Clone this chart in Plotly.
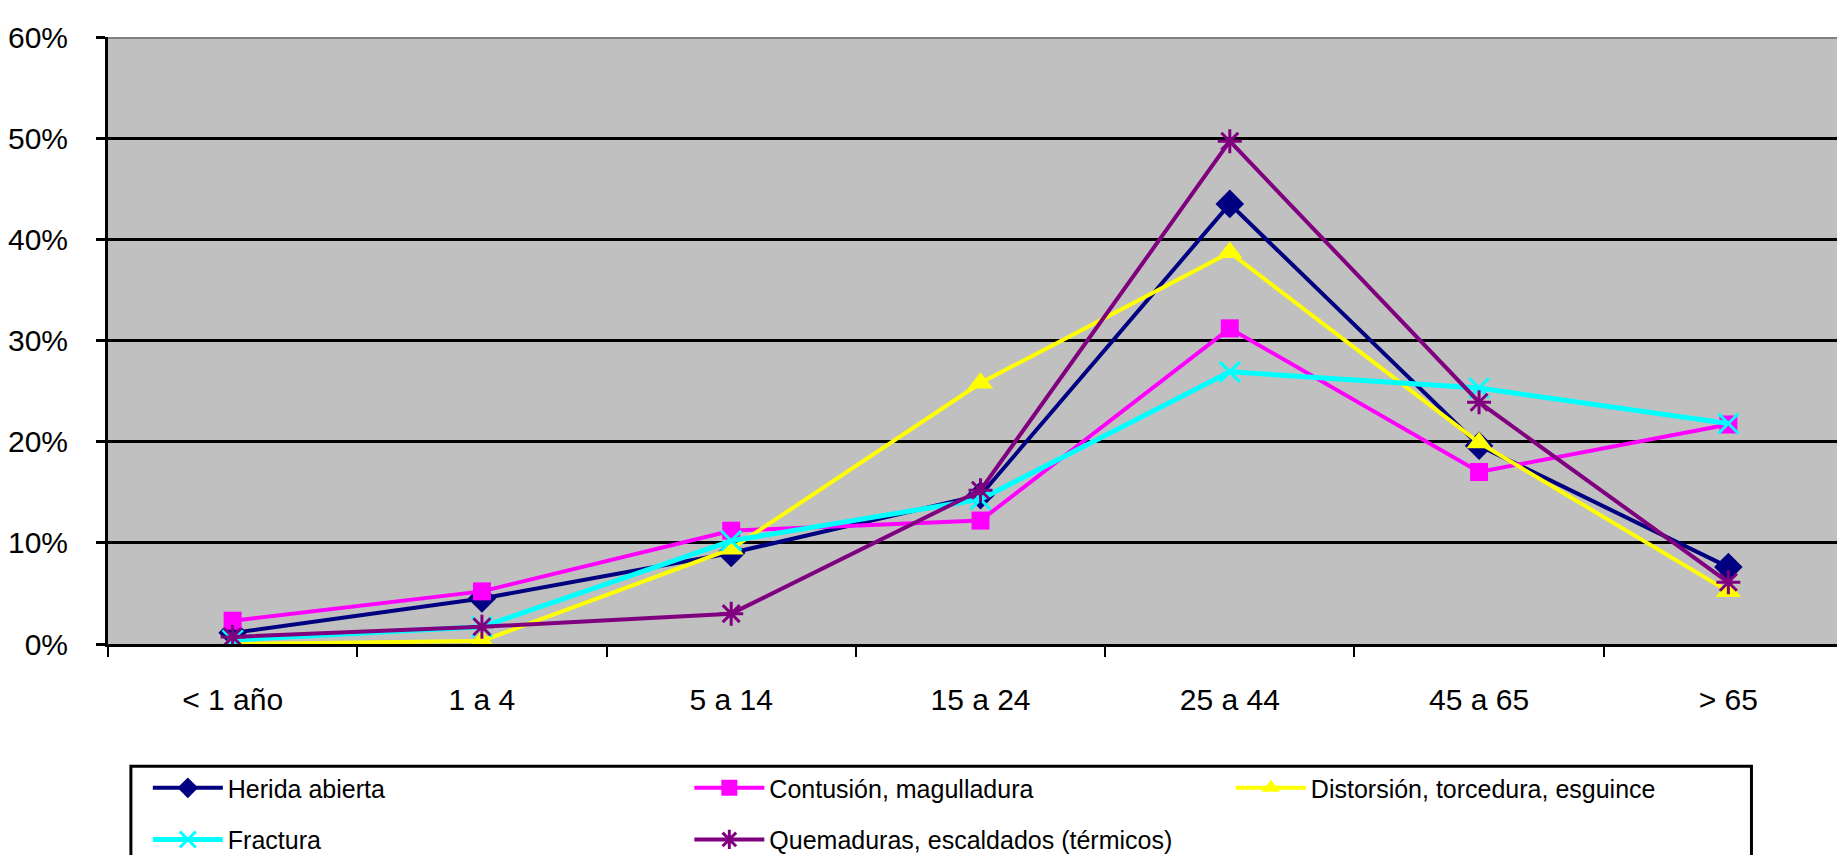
import plotly.graph_objects as go

categories = ["< 1 año", "1 a 4", "5 a 14", "15 a 24", "25 a 44", "45 a 65", "> 65"]

herida = [1.1, 4.5, 9.0, 14.7, 43.5, 19.6, 7.6]
contusion = [2.3, 5.2, 11.2, 12.2, 31.2, 17.0, 21.7]
distorsion = [0.0, 0.3, 9.4, 25.8, 38.7, 19.9, 5.2]
fractura = [0.4, 1.7, 10.2, 14.3, 26.9, 25.3, 21.8]
quemaduras = [0.7, 1.7, 3.0, 15.2, 49.7, 23.9, 6.1]

y_ticks = [0, 0.1, 0.2, 0.3, 0.4, 0.5, 0.6]
y_ticklabels = ["0%", "10%", "20%", "30%", "40%", "50%", "60%"]

FONT = "Liberation Sans Narrow, Arial Narrow, Liberation Sans, Arial, sans-serif"

series = [
    ("Herida abierta", herida, "#000080", "diamond", 22, 4, "legend"),
    ("Contusión, magulladura", contusion, "#FF00FF", "square", 18, 4, "legend2"),
    ("Distorsión, torcedura, esguince", distorsion, "#FFFF00", "triangle-up", 22, 4, "legend3"),
    ("Fractura", fractura, "#00FFFF", "x-thin", 20, 5, "legend4"),
    ("Quemaduras, escaldados (térmicos)", quemaduras, "#800080", "asterisk", 20, 4, "legend5"),
]

fig = go.Figure()
for name, vals, color, sym, size, lw, lg in series:
    marker = dict(symbol=sym, size=size, color=color)
    if sym in ("x-thin", "asterisk"):
        marker["line"] = dict(color=color, width=3)
    else:
        marker["line"] = dict(color=color, width=0)
    fig.add_trace(go.Scatter(
        x=categories, y=[v / 100 for v in vals], name=name, mode="lines+markers",
        line=dict(color=color, width=lw), marker=marker, legend=lg,
    ))

W, H = 1845, 855
L, R, T, B = 92, 0, 29, 215
pw = W - L - R
ph = H - T - B

def px_x(x):
    return (x - L) / pw

def px_y(y):
    return (H - B - y) / ph

leg_common = dict(orientation="h", bgcolor="rgba(0,0,0,0)", borderwidth=0,
                  font=dict(family=FONT, size=25, color="black"),
                  itemwidth=70, xanchor="left", yanchor="middle")

col_x = [132, 676, 1220]
row_y = [785, 837]
fig.update_layout(
    legend=dict(x=px_x(col_x[0]), y=px_y(row_y[0]), **leg_common),
    legend2=dict(x=px_x(col_x[1]), y=px_y(row_y[0]), **leg_common),
    legend3=dict(x=px_x(col_x[2]), y=px_y(row_y[0]), **leg_common),
    legend4=dict(x=px_x(col_x[0]), y=px_y(row_y[1]), **leg_common),
    legend5=dict(x=px_x(col_x[1]), y=px_y(row_y[1]), **leg_common),
)

fig.update_layout(
    width=W, height=H,
    margin=dict(l=L, r=R, t=T, b=B, pad=0),
    paper_bgcolor="white", plot_bgcolor="#C0C0C0",
    font=dict(family=FONT, size=30, color="black"),
    showlegend=True,
    xaxis=dict(
        type="category", range=[-0.5, 6.5], tickson="boundaries",
        ticks="outside", ticklen=10, tickwidth=2, tickcolor="black",
        showline=True, linecolor="black", linewidth=3, showgrid=False,
        tickfont=dict(family=FONT, size=30, color="black"),
        ticklabelstandoff=27,
    ),
    yaxis=dict(
        range=[0, 0.6], tickvals=y_ticks, ticktext=y_ticklabels,
        ticks="outside", ticklen=9, tickwidth=3, tickcolor="black",
        showline=True, linecolor="black", linewidth=3,
        showgrid=True, gridcolor="black", gridwidth=3, zeroline=False,
        tickfont=dict(family=FONT, size=30, color="black"),
        ticklabelstandoff=22,
    ),
    shapes=[
        dict(type="line", xref="paper", yref="y", x0=0, x1=1, y0=0.6, y1=0.6,
             line=dict(color="#808080", width=4), layer="above"),
        dict(type="rect", xref="paper", yref="paper",
             x0=px_x(115), x1=px_x(1743), y0=px_y(763), y1=px_y(870),
             line=dict(color="black", width=3), fillcolor="rgba(0,0,0,0)", layer="above"),
    ],
)

fig.write_html("out.html")
